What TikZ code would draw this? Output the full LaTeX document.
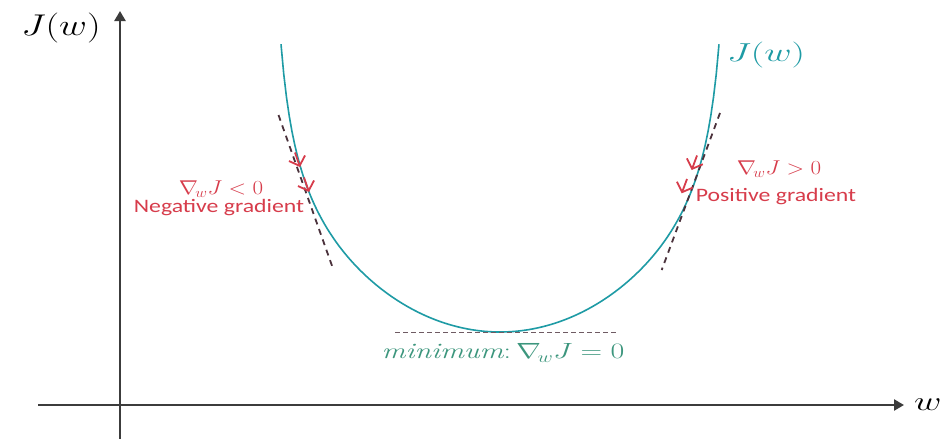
\RequirePackage{fix-cm}
\documentclass[tikz,border=0pt]{standalone}
\usepackage{fontspec}
\setsansfont{Carlito}
\usetikzlibrary{arrows.meta}
\definecolor{curvecol}{RGB}{30,155,165}
\definecolor{gradred}{RGB}{215,60,75}
\definecolor{mincol}{RGB}{60,150,125}
\definecolor{tancol}{RGB}{75,50,60}
\definecolor{axiscol}{RGB}{60,60,60}
\tikzset{
  axisline/.style={line width=2.4pt, color=axiscol, -{Triangle[length=10pt,width=11pt]}},
  fcurve/.style={line width=1.6pt, color=curvecol},
  tangent/.style={line width=1.8pt, color=tancol, dash pattern=on 6pt off 5pt},
  gradarrow/.style={line width=1.8pt, color=gradred, -{Straight Barb[length=8pt,width=17pt]}},
  redlabel/.style={color=gradred, inner sep=0pt},
  minline/.style={line width=0.9pt, color=tancol!80, dash pattern=on 5pt off 3pt},
}
\begin{document}
\begin{tikzpicture}[x=1pt,y=-1pt]
\useasboundingbox[fill=white] (0,0) rectangle (948,439);
% axes
\coordinate (xs) at (38,405);
\coordinate (xe) at (904,405);
\coordinate (ys) at (120,439);
\coordinate (ye) at (120,11);
\draw[axisline] (xs) -- (xe);
\draw[axisline] (ys) -- (ye);
\node[anchor=base west, inner sep=0pt] (wlab) at (914,410) {\scalebox{1.4}[1]{\fontsize{27}{30}\selectfont$w$}};
\node[inner sep=0pt] (jlab) at (61,28) {\scalebox{1.28}[1]{\fontsize{30}{34}\selectfont$J(w)$}};
% curve
\draw[fcurve] plot[domain=-219:219, samples=161, variable=\t]
  ({500+\t},{332-(0.0024*\t)*\t-22*(1/cos(\t/236*90)-1)});
\node[inner sep=0pt, color=curvecol] (jcurve) at (766,55) {\scalebox{1.45}[1]{\fontsize{26}{30}\selectfont$J(w)$}};
% left tangent
\coordinate (lt1) at (278.5,115);
\coordinate (lt2) at (333.5,270);
\draw[tangent] (lt1) -- (lt2);
\coordinate (la1s) at (295,152.5);
\coordinate (la1e) at (300,167);
\coordinate (la2s) at (304,177.5);
\coordinate (la2e) at (309,192);
\draw[gradarrow] (la1s) -- (la1e);
\draw[gradarrow] (la2s) -- (la2e);
% right tangent
\coordinate (rt1) at (720,113);
\coordinate (rt2) at (661.7,270);
\draw[tangent] (rt1) -- (rt2);
\coordinate (ra1s) at (697,155.5);
\coordinate (ra1e) at (691.7,170);
\coordinate (ra2s) at (687,179);
\coordinate (ra2e) at (681.7,193.3);
\draw[gradarrow] (ra1s) -- (ra1e);
\draw[gradarrow] (ra2s) -- (ra2e);
% labels
\node[redlabel] (lneg) at (221,189) {\scalebox{1.15}[1]{\fontsize{20}{22}\selectfont$\nabla_{\!w} J < 0$}};
\node[redlabel, font=\sffamily] (lnegt) at (219,208) {\scalebox{1.25}[1]{\fontsize{19}{22}\selectfont Negative gradient}};
\node[redlabel] (lpos) at (779,169) {\scalebox{1.15}[1]{\fontsize{20}{22}\selectfont$\nabla_{\!w} J > 0$}};
\node[redlabel, font=\sffamily] (lpost) at (776,197) {\scalebox{1.25}[1]{\fontsize{19}{22}\selectfont Positive gradient}};
% minimum
\coordinate (m1) at (395,332);
\coordinate (m2) at (618,332);
\draw[minline] (m1) -- (m2);
\node[inner sep=0pt, color=mincol] (minlab) at (503,353) {\scalebox{1.36}[1]{\fontsize{22}{26}\selectfont$\mathit{minimum}\colon \nabla_{\!w} J = 0$}};
\end{tikzpicture}
\end{document}
